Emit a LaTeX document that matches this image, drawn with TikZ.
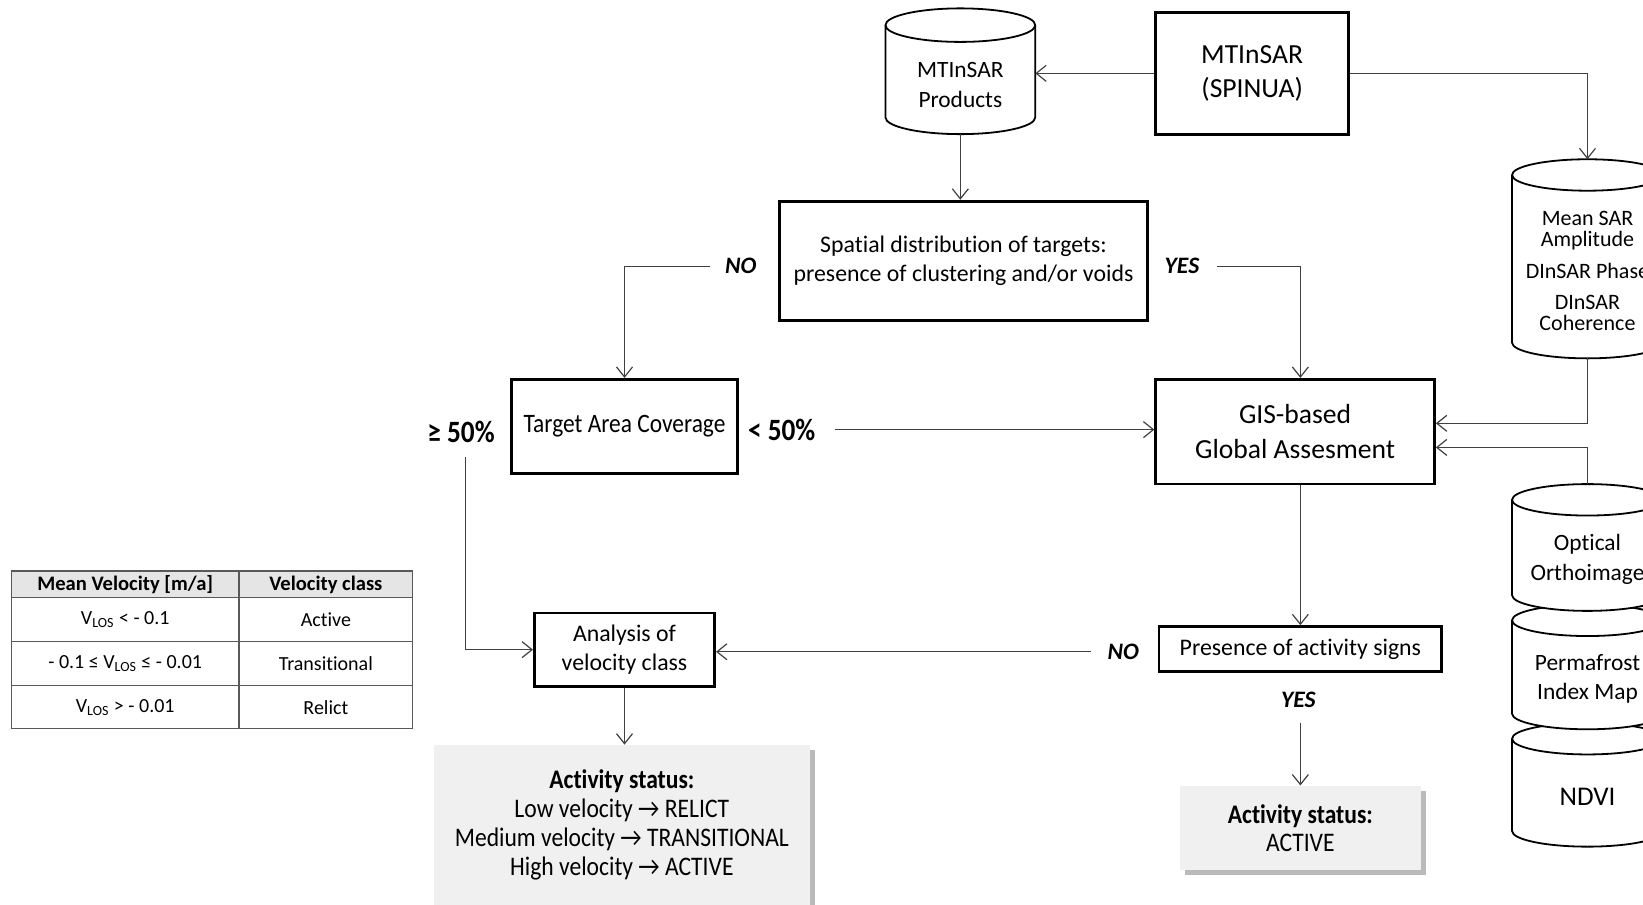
\documentclass[tikz,border=0pt]{standalone}
\usepackage{fontspec}
\setmainfont{Carlito}[Ligatures=NoCommon]
\newfontfamily\condf[FakeStretch=0.88,Ligatures=NoCommon]{Carlito}
\newfontfamily\symf{DejaVu Sans}
\usetikzlibrary{arrows.meta,calc,shadows}
\newcommand\mycyl[5]{%
 \filldraw[cylst] ({#1-#4},{#2}) -- ({#1-#4},{#3}) arc[start angle=180,end angle=0,x radius=#4,y radius=#5] -- ({#1+#4},{#2}) arc[start angle=0,end angle=-180,x radius=#4,y radius=#5] -- cycle;
 \draw[cylst,fill=none] ({#1-#4},{#2}) arc[start angle=180,end angle=0,x radius=#4,y radius=#5];
}
\tikzset{
 u/.style 2 args={minimum width=#1*0.5239pt, minimum height=#2*0.5239pt},
 tbox/.style={draw=black, line width=1.4pt, inner sep=0pt, align=center, fill=white},
 ghost/.style={inner sep=0pt, outer sep=0pt},
 conn/.style={draw=black!75, line width=0.6pt, -{Straight Barb[length=5pt, width=8pt, line width=0.6pt]}},
 lbl/.style={font=\fontsize{11.8}{14}\selectfont\bfseries\itshape, inner sep=1pt},
 pct/.style={font=\condf\bfseries\fontsize{15.5}{18}\selectfont, inner sep=1pt},
 cylst/.style={draw=black, line width=0.9pt, fill=white},
 cyltxt/.style={align=center, inner sep=0pt, font=\fontsize{11.7}{14.7}\selectfont},
 status/.style={fill=black!6, inner sep=0pt, align=center, drop shadow={shadow xshift=2.5pt, shadow yshift=-2.5pt, fill=black!45, opacity=0.6}},
 tabline/.style={draw=black!65, line width=0.6pt},
 th/.style={font=\bfseries\fontsize{10.3}{12}\selectfont, inner sep=0pt},
 td/.style={font=\fontsize{10}{12}\selectfont, inner sep=0pt},
}
\begin{document}
\begin{tikzpicture}[x=0.5239pt,y=-0.5239pt]
\useasboundingbox (0,0) rectangle (1568,863);
\clip (0,0) rectangle (1568,863);

% ---- cylinders
\mycyl{916.5}{24}{112}{71.5}{16}
\node[ghost,u={143}{120}] (prod) at (916.5,68) {};
\node[cyltxt] (prodtxt) at (916.5,81) {MTInSAR\\Products};

\mycyl{1515}{167}{327}{72}{15}
\node[ghost,u={144}{190}] (meansar) at (1515,247) {};
\node[cyltxt,font=\fontsize{11}{10.5}\selectfont] (ms1) at (1515,220) {Mean SAR\\Amplitude};
\node[cyltxt,font=\fontsize{11}{10.5}\selectfont] (ms2) at (1515,259) {DInSAR Phase};
\node[cyltxt,font=\fontsize{11}{10.5}\selectfont] (ms3) at (1515,299) {DInSAR\\Coherence};

\mycyl{1515}{705}{793}{72}{15}
\mycyl{1515}{592}{681}{72}{15}
\mycyl{1515}{477}{568}{72}{15}
\node[ghost,u={144}{121}] (optical) at (1515,522.5) {};
\node[cyltxt] (opttxt) at (1515,534) {Optical\\Orthoimage};
\node[cyltxt] (permtxt) at (1515,648) {Permafrost\\Index Map};
\node[cyltxt,font=\fontsize{13.5}{16}\selectfont] (ndvitxt) at (1515,760) {NDVI};

% ---- boxes
\node[tbox,u={184}{116},font=\fontsize{13.8}{16.8}\selectfont] (spinua) at (1195,70) {MTInSAR\\(SPINUA)};
\node[tbox,u={351}{114},font=\fontsize{11.9}{14.7}\selectfont] (spatial) at (919.5,249) {Spatial distribution of targets:\\presence of clustering and/or voids};
\node[tbox,u={216}{90},font=\condf\fontsize{13.3}{16}\selectfont] (tac) at (596,407) {Target Area Coverage};
\node[tbox,u={266}{100},font=\fontsize{13.8}{17.3}\selectfont] (gis) at (1236,412) {GIS-based\\Global Assesment};
\node[tbox,u={172}{70},font=\fontsize{11.9}{14.1}\selectfont] (analysis) at (596,620) {Analysis of\\velocity class};
\node[tbox,u={270}{43},font=\fontsize{11.9}{14.1}\selectfont] (presence) at (1241,619.5) {Presence of activity signs};

\node[status,u={230}{80},font=\condf\fontsize{13.4}{14.1}\selectfont] (active) at (1241,790) {\textbf{Activity status:}\\ACTIVE};
\node[status,u={359}{200}] (statusbox) at (593.5,811) {};
\node[align=center,inner sep=0pt,font=\condf\fontsize{13.4}{14.5}\selectfont] (statustxt) at (593.5,787.5) {\textbf{Activity status:}\\Low velocity → RELICT\\Medium velocity → TRANSITIONAL\\High velocity → ACTIVE};

% ---- labels
\node[lbl] (no1) at (707,254) {NO};
\node[lbl] (yes1) at (1128,254) {YES};
\node[pct] (ge50) at (440,412) {≥ 50\%};
\node[pct] (lt50) at (746,410) {< 50\%};
\node[lbl] (no2) at (1072,622) {NO};
\node[lbl] (yes2) at (1239,668) {YES};

% ---- connectors
\draw[conn] (spinua.west) -- (spinua.west -| prod.east);
\draw[conn] (spinua.east) -| (meansar.north);
\draw[conn] (prod.south) -- (prod.south |- spatial.north);
\draw[conn] ($(no1.west)+(-12,0)$) -| (tac.north);
\draw[conn] ($(yes1.east)+(15,0)$) -| (presence.north |- gis.north);
\draw[conn] ($(lt50.east)+(16,0)$) -- (lt50.east -| gis.west);
\draw[conn] (meansar.south) |- ($(gis.east)+(0,-8)$);
\draw[conn] (optical.north) |- ($(gis.east)+(0,15)$);
\draw[conn] ($(ge50.south)+(4,12)$) |- (analysis.west);
\draw[conn] ($(no2.west)+(-14,0)$) -- (no2.west -| analysis.east);
\draw[conn] (gis.south -| presence.north) -- (presence.north);
\draw[conn] ($(yes2.south)+(2,12)$) -- (active.north);
\draw[conn] (analysis.south) -- (analysis.south |- statusbox.north);

% ---- table
\draw[tabline,fill=black!10] (11,545) rectangle (394,570);
\draw[tabline] (11,570) rectangle (394,695);
\draw[tabline] (11,612) -- (394,612);
\draw[tabline] (11,654) -- (394,654);
\draw[tabline] (228,545) -- (228,695);
\node[th] (th1) at (119.5,558) {Mean Velocity [m/a]};
\node[th] (th2) at (311,558) {Velocity class};
\node[td] (r1a) at (119.5,591) {V\textsubscript{LOS} < - 0.1};
\node[td] (r1b) at (311,591) {Active};
\node[td] (r2a) at (119.5,633) {- 0.1 ≤ V\textsubscript{LOS} ≤ - 0.01};
\node[td] (r2b) at (311,633) {Transitional};
\node[td] (r3a) at (119.5,675) {V\textsubscript{LOS} > - 0.01};
\node[td] (r3b) at (311,675) {Relict};
\end{tikzpicture}
\end{document}
